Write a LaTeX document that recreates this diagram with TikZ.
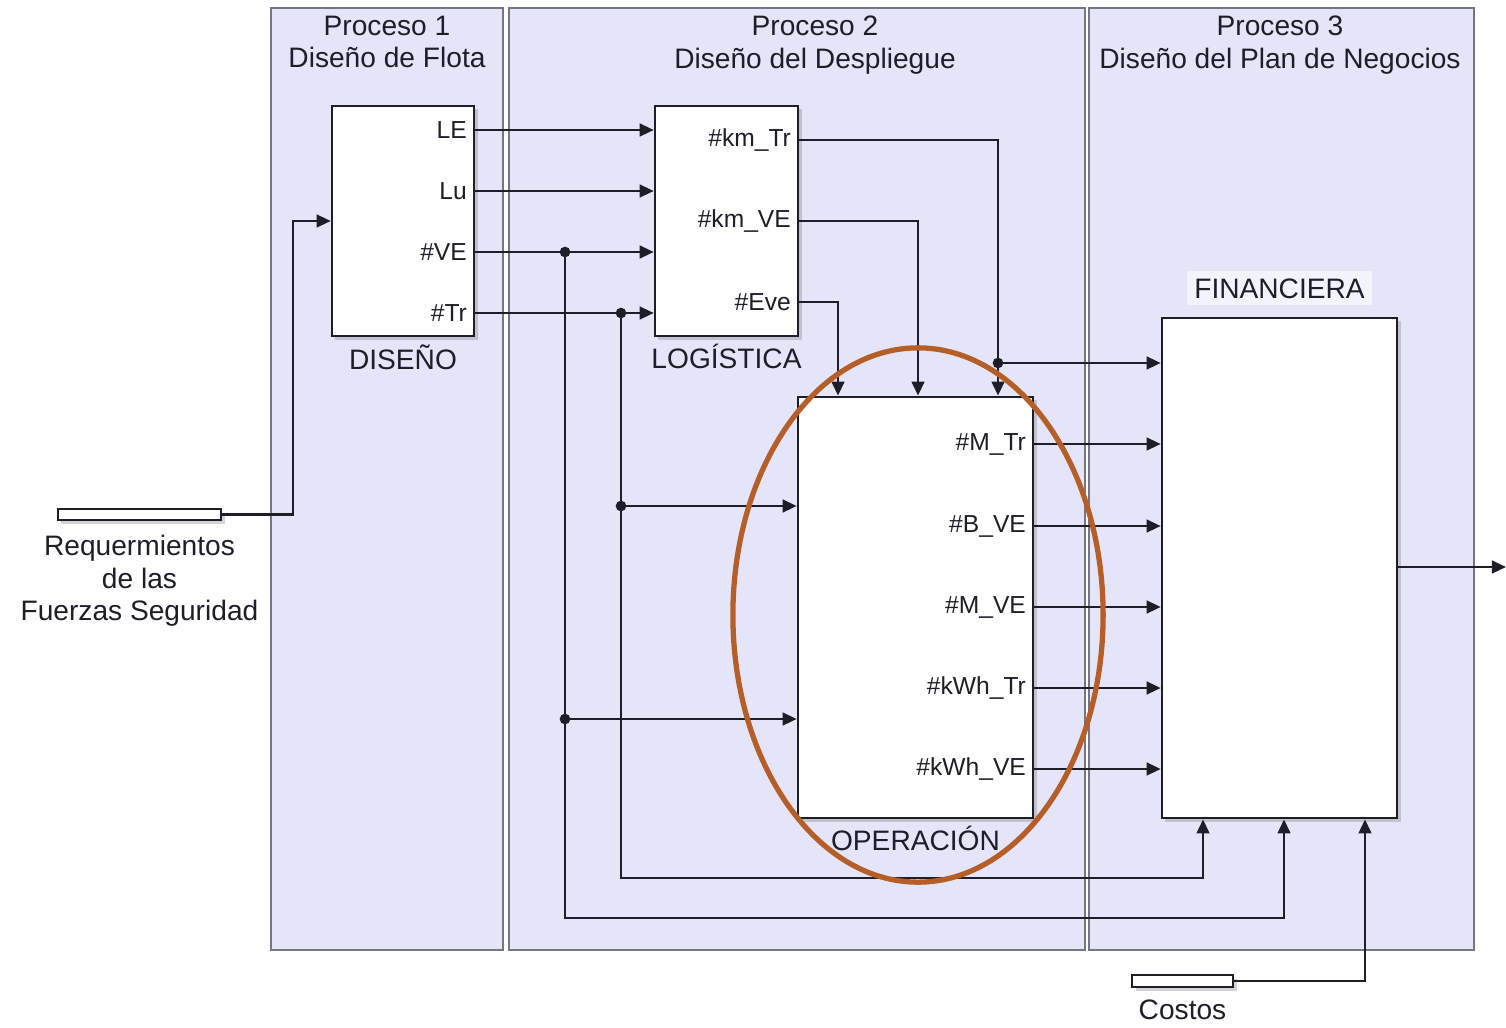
\documentclass[tikz,border=0pt]{standalone}
\usepackage{fontspec}
\setmainfont{Liberation Sans}
\usetikzlibrary{arrows.meta,positioning,shadows}
\definecolor{lav}{RGB}{229,229,250}
\definecolor{lavline}{RGB}{118,118,130}
\definecolor{ring}{RGB}{181,94,40}
\definecolor{ink}{RGB}{30,30,40}
\tikzset{
  arr/.style={-{Triangle[length=4pt,width=3.6pt]}, line width=0.7pt, draw=ink},
  proc/.style={fill=lav, draw=lavline, line width=0.6pt},
  blk/.style={draw=ink, fill=white, line width=0.7pt, inner sep=0pt,
    drop shadow={shadow xshift=1pt, shadow yshift=-1pt, opacity=0.35}},
  port/.style={anchor=east, inner sep=2.2pt, font=\fontsize{7}{8}\selectfont, text=ink},
  lbl/.style={font=\fontsize{8}{9.2}\selectfont, text=ink, align=center, inner sep=1pt},
}
\begin{document}
\begin{tikzpicture}[x=0.01cm, y=-0.01cm]
  \useasboundingbox (0,0) rectangle (1506,1027);

  \draw[proc] (271,8) rectangle (503,950);
  \draw[proc] (509,8) rectangle (1085,950);
  \draw[proc] (1089,8) rectangle (1474,950);
  \node[lbl] (t1) at (387,45) {Proceso 1\\Diseño de Flota\vphantom{gp}};
  \node[lbl] (t2) at (815,45) {Proceso 2\\Diseño del Despliegue\vphantom{gp}};
  \node[lbl] (t3) at (1280,45) {Proceso 3\\Diseño del Plan de Negocios\vphantom{gp}};

  \node[blk, minimum width=1.42cm, minimum height=2.30cm] (dis) at (403,221) {};
  \node[blk, minimum width=1.43cm, minimum height=2.30cm] (log) at (726.5,221) {};
  \node[blk, minimum width=2.35cm, minimum height=4.21cm] (ope) at (915.5,607.5) {};
  \node[blk, minimum width=2.35cm, minimum height=5.00cm] (fin) at (1279.5,568) {};
  \node[blk, minimum width=1.63cm, minimum height=0.11cm] (req) at (139.5,514.5) {};
  \node[blk, minimum width=1.01cm, minimum height=0.12cm] (cos) at (1182.5,981) {};

  \node[lbl, below=0.8pt of dis] (disl) {DISEÑO};
  \node[lbl, below=0.8pt of log] (logl) {LOGÍSTICA};
  \node[lbl, below=0.8pt of ope] (opel) {OPERACIÓN};
  \node[lbl, above=3pt of fin, fill=white!55!lav, inner sep=2pt] (finl) {FINANCIERA};
  \node[lbl, below=2.8pt of req] (reql) {Requermientos\\de las\\Fuerzas Seguridad};
  \node[lbl, below=2pt of cos] (cosl) {Costos};

  \draw[arr] (req.east) -- (293,514.5) |- (dis.west);

  \foreach \y/\t in {130/LE, 191/Lu, 252/\#VE, 313/\#Tr}{
    \node[port] at (dis.east |- 0,\y) {\t};
    \draw[arr] (dis.east |- 0,\y) -- (log.west |- 0,\y);
  }

  \coordinate (jVE) at (565,252);
  \coordinate (jTr) at (621,313);
  \coordinate (jVE2) at (565,719);
  \coordinate (jTr2) at (621,506);
  \draw[arr] (jVE) -- (565,918) -| (fin.south -| 1284,0);
  \draw[arr] (jTr) -- (621,878) -| (fin.south -| 1203,0);
  \draw[arr] (jVE2) -- (ope.west |- jVE2);
  \draw[arr] (jTr2) -- (ope.west |- jTr2);

  \node[port] at (log.east |- 0,140) {\#km\_Tr};
  \node[port] at (log.east |- 0,221) {\#km\_VE};
  \node[port] at (log.east |- 0,302) {\#Eve};
  \draw[arr] (log.east |- 0,140) -| (ope.north -| 998,0);
  \draw[arr] (log.east |- 0,221) -| (ope.north -| 918,0);
  \draw[arr] (log.east |- 0,302) -| (ope.north -| 838,0);
  \coordinate (jKm) at (998,363);
  \draw[arr] (jKm) -- (fin.west |- jKm);

  \foreach \y/\t in {444/\#M\_Tr, 526/\#B\_VE, 607/\#M\_VE, 688/\#kWh\_Tr, 769/\#kWh\_VE}{
    \node[port] at (ope.east |- 0,\y) {\t};
    \draw[arr] (ope.east |- 0,\y) -- (fin.west |- 0,\y);
  }

  \draw[arr] (cos.east) -| (fin.south -| 1365,0);
  \coordinate (out) at (1506,567);
  \draw[arr] (fin.east |- out) -- (out);

  \foreach \p in {jVE, jTr, jVE2, jTr2, jKm}
    \filldraw[ink] (\p) circle (1.3pt);

  \draw[ring, line width=1.5pt] (918,615) ellipse [x radius=1.85cm, y radius=2.67cm];
\end{tikzpicture}
\end{document}
